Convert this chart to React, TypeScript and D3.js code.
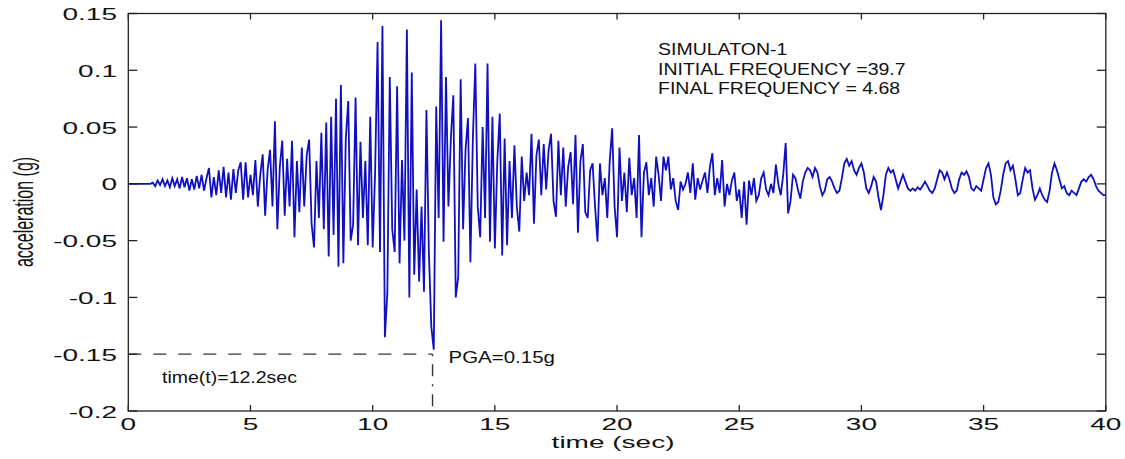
import React from 'react';
import * as d3 from 'd3';

// sample interval of the record (seconds)
const DT = 0.1;

// acceleration (g), one row per second of record
const accel: number[] = [
  0, 0, 0, 0, 0, 0, 0, 0, 0, 0,
  .001, -.002, .003, -.001, .004, -.002, .003, -.003, .005, -.002,
  .004, -.004, .006, -.003, .005, -.006, .004, -.005, .007, -.004,
  .008, -.006, .005, .014, -.012, .006, -.010, .012, -.008, .015,
  -.012, .010, -.014, .013, -.008, .012, .019, -.014, .019, -.012,
  .008, -.010, .021, -.020, .008, .026, -.028, .012, .030, -.020,
  .055, -.040, .015, .038, -.028, .022, -.020, .038, -.047, .020,
  -.025, .032, -.020, .025, .039, -.035, -.056, .020, -.030, .045,
  -.040, .054, -.064, .059, -.045, .075, -.073, .087, -.070, .040,
  .073, -.050, -.036, .076, -.054, .037, -.030, .020, -.054, .059,
  -.056, .010, .125, -.060, .139, -.135, -.096, .094, -.040, -.060,
  .086, -.070, .021, -.050, .136, -.100, .098, -.080, -.005, -.086,
  -.020, -.095, .065, -.060, -.126, -.146, .068, -.030, .144, -.051,
  .094, -.020, .040, .078, -.100, -.082, .092, -.040, .030, .058,
  -.069, .040, .106, -.020, -.047, .050, -.030, .106, -.051, .059,
  -.057, .020, .062, -.063, .040, -.054, .020, -.030, .034, -.020,
  -.042, .024, -.015, .010, -.010, .044, -.035, .025, .039, -.010,
  .035, -.005, .030, .044, -.015, -.029, .038, -.010, .032, -.020,
  .015, .028, -.018, .043, -.043, .020, .035, -.025, -.030, .012,
  .018, -.020, -.051, .018, -.010, .005, -.030, .020, .049, -.020,
  -.047, .032, -.015, .010, -.025, .023, -.010, .005, -.030, .043,
  -.047, .010, .019, -.010, .005, -.020, .024, .008, -.015, .024,
  .012, .024, -.005, .005, -.015, -.023, .002, -.005, .000, .010,
  -.008, .018, -.014, .005, -.005, .003, .010, -.008, .015, .027,
  -.010, .005, -.008, .021, -.020, .000, -.010, .003, .010, -.015,
  -.005, -.030, .002, -.036, .003, -.010, .005, -.015, -.010, .005,
  .010, -.005, -.010, .000, -.008, .017, .000, -.010, .008, .036,
  -.026, -.015, .008, .005, -.005, -.013, .002, .010, .014, .012,
  .006, .014, .010, -.002, -.010, -.006, .004, .006, .002, -.004,
  -.008, -.006, .005, .018, .022, .016, .020, .012, .008, .014,
  .018, .010, -.004, -.008, -.002, .006, .002, -.012, -.023, -.010,
  .008, .014, .010, .012, .004, -.004, .002, .008, .002, -.004,
  -.006, -.004, -.006, -.003, -.005, -.002, .002, -.002, -.006, -.008,
  -.004, .004, .012, .010, .004, .010, .004, -.004, -.008, -.006,
  .004, .010, .008, .011, .006, -.004, -.006, -.002, -.004, -.006,
  .004, .014, .018, .008, -.012, -.018, -.016, -.006, .008, .018,
  .020, .012, .016, .004, -.010, -.008, .004, .014, .010, .012,
  -.004, -.014, -.010, -.004, -.010, -.014, -.016, -.006, .010, .018,
  .012, .004, -.004, -.002, -.008, -.010, -.006, -.008, -.010, -.004,
  .002, .004, .002, .006, .008, .004, -.002, -.006, -.008, -.010,
  -.010,
];

const xTicks = [0, 5, 10, 15, 20, 25, 30, 35, 40];
const xTickLabels = ['0', '5', '10', '15', '20', '25', '30', '35', '40'];
const yTicks = [0.15, 0.1, 0.05, 0, -0.05, -0.1, -0.15, -0.2];
const yTickLabels = ['0.15', '0.1', '0.05', '0', '-0.05', '-0.1', '-0.15', '-0.2'];

const infoLines = ['SIMULATON-1', 'INITIAL FREQUENCY =39.7', 'FINAL FREQUENCY = 4.68'];
const pgaTime = 12.45;
const pgaValue = -0.15;
const pgaLabel = 'PGA=0.15g';
const timeLabel = 'time(t)=12.2sec';
const xLabel = 'time (sec)';
const yLabel = 'acceleration (g)';

const W = 1125;
const H = 459;
const FONT = "'Liberation Sans', Arial, Helvetica, sans-serif";
const AX = '#222';
const TXT = '#111';
const SX = 1.75; // horizontal stretch of tick/axis text
const SA = 1.22; // horizontal stretch of annotation text

export default function App() {
  const x = d3.scaleLinear().domain([0, 40]).range([128.3, 1105.8]);
  const y = d3.scaleLinear().domain([-0.2, 0.15]).range([411, 13.5]);

  const line = d3
    .line<number>()
    .x((_, i) => x(i * DT))
    .y((v) => y(v));

  const [x0, x1] = x.range();
  const [y0, y1] = y.range(); // y0 bottom, y1 top

  return (
    <svg
      width={W}
      height={H}
      style={{ position: 'absolute', left: 0, top: 0, background: '#fff' }}
      fontFamily={FONT}
    >
      <rect x={0} y={0} width={W} height={H} fill="#fff" />

      {/* signal */}
      <path d={line(accel) || ''} fill="none" stroke="#1010c0" strokeWidth={1.8} strokeLinejoin="miter" />

      {/* PGA guide lines */}
      <line
        x1={x(0)}
        x2={x(pgaTime)}
        y1={y(pgaValue)}
        y2={y(pgaValue)}
        stroke="#333"
        strokeWidth={1.2}
        strokeDasharray="13,12"
      />
      <line
        x1={x(pgaTime)}
        x2={x(pgaTime)}
        y1={y(pgaValue)}
        y2={y(-0.2)}
        stroke="#333"
        strokeWidth={1.4}
        strokeDasharray="2,8,12,8"
      />

      {/* box */}
      <rect x={x0} y={y1} width={x1 - x0} height={y0 - y1} fill="none" stroke={AX} strokeWidth={1.3} />

      {/* x ticks (bottom and top, inward) */}
      {xTicks.map((t, i) => (
        <g key={'xt' + t}>
          <line x1={x(t)} x2={x(t)} y1={y0} y2={y0 - 6} stroke={AX} strokeWidth={1.3} />
          <line x1={x(t)} x2={x(t)} y1={y1} y2={y1 + 6} stroke={AX} strokeWidth={1.3} />
          <text
            transform={`translate(${x(t)},${y0 + 19}) scale(${SX},1)`}
            textAnchor="middle"
            fontSize={16}
            fill={TXT}
          >
            {xTickLabels[i]}
          </text>
        </g>
      ))}

      {/* y ticks (left and right, inward) */}
      {yTicks.map((v, i) => (
        <g key={'yt' + v}>
          <line x1={x0} x2={x0 + 9} y1={y(v)} y2={y(v)} stroke={AX} strokeWidth={1.3} />
          <line x1={x1} x2={x1 - 9} y1={y(v)} y2={y(v)} stroke={AX} strokeWidth={1.3} />
          <text
            transform={`translate(117,${y(v) + 6.5}) scale(${SX},1)`}
            textAnchor="end"
            fontSize={16}
            fill={TXT}
          >
            {yTickLabels[i]}
          </text>
        </g>
      ))}

      {/* axis labels */}
      <text
        transform={`translate(${(x0 + x1) / 2 - 4},448) scale(${SX},1)`}
        textAnchor="middle"
        fontSize={16}
        fill={TXT}
      >
        {xLabel}
      </text>
      <text
        transform={`translate(33,212) scale(${SX},1) rotate(-90)`}
        textAnchor="middle"
        fontSize={16}
        fill={TXT}
      >
        {yLabel}
      </text>

      {/* info block */}
      {infoLines.map((s, i) => (
        <text
          key={s}
          transform={`translate(658,${55 + i * 19.5}) scale(${SA},1)`}
          fontSize={16}
          fill={TXT}
        >
          {s}
        </text>
      ))}

      {/* PGA annotations */}
      <text transform={`translate(${x(pgaTime) + 16},${y(pgaValue) + 8.5}) scale(1.28,1)`} fontSize={16} fill={TXT}>
        {pgaLabel}
      </text>
      <text transform={`translate(162,383) scale(${SA},1)`} fontSize={16} fill={TXT}>
        {timeLabel}
      </text>
    </svg>
  );
}
